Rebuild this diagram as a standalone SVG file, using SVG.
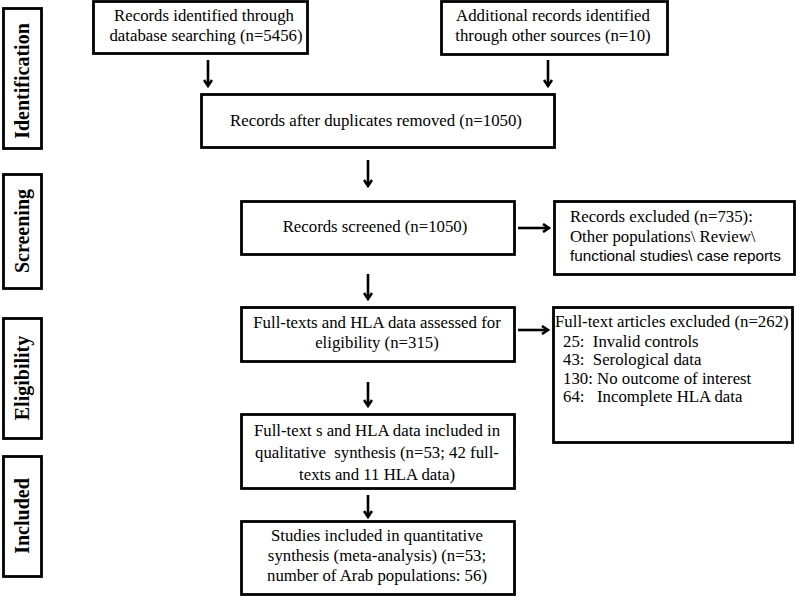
<svg xmlns="http://www.w3.org/2000/svg" width="796" height="596" viewBox="0 0 796 596">
<defs>
<marker id="ah" markerWidth="10" markerHeight="10" refX="7" refY="5" orient="auto" markerUnits="userSpaceOnUse">
<path d="M1,1 L7,5 L1,9" fill="none" stroke="#000" stroke-width="2.6" stroke-linejoin="miter"/>
</marker>
</defs>
<style>
.box{fill:#fff;stroke:#000;stroke-width:2.8}
.t{font-family:"Liberation Serif","Times New Roman",serif;font-size:16.8px;fill:#000}
.c{text-anchor:middle}
.s{font-family:"Liberation Sans",Arial,sans-serif;font-size:14px;fill:#000}
.side{font-family:"Liberation Serif","Times New Roman",serif;font-size:20px;font-weight:bold;fill:#000;text-anchor:middle}
.arr{stroke:#000;stroke-width:2.6;fill:none;marker-end:url(#ah)}
</style>
<rect width="796" height="596" fill="#fff"/>

<g id="stage-identification"><rect class="box" x="3.5" y="8.5" width="38" height="140"/><text class="side" transform="translate(29,81) rotate(-90)">Identification</text></g>
<g id="stage-screening"><rect class="box" x="3.5" y="174.5" width="38" height="114"/><text class="side" transform="translate(29,231) rotate(-90)">Screening</text></g>
<g id="stage-eligibility"><rect class="box" x="3.5" y="318.5" width="38" height="120"/><text class="side" transform="translate(29,378) rotate(-90)">Eligibility</text></g>
<g id="stage-included"><rect class="box" x="3.5" y="456.5" width="38" height="120"/><text class="side" transform="translate(29,516) rotate(-90)">Included</text></g>

<g id="db-search"><rect class="box" x="93.5" y="1.5" width="214" height="52"/>
<text class="t c" x="204" y="21">Records identified through</text>
<text class="t c" x="206" y="41">database searching  (n=5456)</text></g>

<g id="other-sources"><rect class="box" x="441.5" y="1.5" width="226" height="53"/>
<text class="t c" x="553" y="21">Additional records identified</text>
<text class="t c" x="553" y="41">through other sources (n=10)</text></g>

<g id="dup-removed"><rect class="box" x="201.5" y="94.5" width="353" height="53"/>
<text class="t c" x="376" y="126">Records after duplicates  removed (n=1050)</text></g>

<g id="screened"><rect class="box" x="241.5" y="201.5" width="273" height="53"/>
<text class="t c" x="375" y="232">Records screened (n=1050)</text></g>

<g id="excluded-records"><rect class="box" x="554.5" y="201.5" width="240" height="73"/>
<text class="t" x="570" y="222">Records excluded (n=735):</text>
<text class="t" x="570" y="242">Other populations\ Review\</text>
<text class="s" x="570" y="261" textLength="211" lengthAdjust="spacingAndGlyphs">functional studies\ case reports</text></g>

<g id="assessed"><rect class="box" x="241.5" y="307.5" width="273" height="54"/>
<text class="t c" x="377" y="328">Full-texts and HLA data assessed for</text>
<text class="t c" x="377" y="348">eligibility (n=315)</text></g>

<g id="excluded-fulltext"><rect class="box" x="553.5" y="307.5" width="239" height="135"/>
<text class="t" x="555" y="327" font-size="17.4">Full-text articles excluded (n=262)</text>
<text class="t" x="563" y="347" xml:space="preserve">25:  Invalid controls</text>
<text class="t" x="563" y="365" xml:space="preserve">43:  Serological data</text>
<text class="t" x="563" y="384" xml:space="preserve">130: No outcome of interest</text>
<text class="t" x="563" y="402" xml:space="preserve">64:   Incomplete HLA data</text></g>

<g id="qualitative"><rect class="box" x="241.5" y="414.5" width="273" height="74"/>
<text class="t c" x="377" y="436">Full-text s and HLA data included in</text>
<text class="t c" x="377" y="458" xml:space="preserve">qualitative  synthesis (n=53; 42 full-</text>
<text class="t c" x="377" y="480">texts and 11 HLA data)</text></g>

<g id="quantitative"><rect class="box" x="241.5" y="521.5" width="273" height="73"/>
<text class="t c" x="377" y="541">Studies included in quantitative</text>
<text class="t c" x="377" y="561">synthesis (meta-analysis) (n=53;</text>
<text class="t c" x="377" y="581">number of Arab populations: 56)</text></g>

<g id="connectors">
<line class="arr" x1="208" y1="60" x2="208" y2="86"/>
<line class="arr" x1="548" y1="60" x2="548" y2="86"/>
<line class="arr" x1="368" y1="160" x2="368" y2="186"/>
<line class="arr" x1="518" y1="228" x2="549" y2="228"/>
<line class="arr" x1="368" y1="274" x2="368" y2="299"/>
<line class="arr" x1="518" y1="330" x2="548" y2="330"/>
<line class="arr" x1="368" y1="382" x2="368" y2="406"/>
<line class="arr" x1="368" y1="495" x2="368" y2="517"/>
</g>
</svg>
